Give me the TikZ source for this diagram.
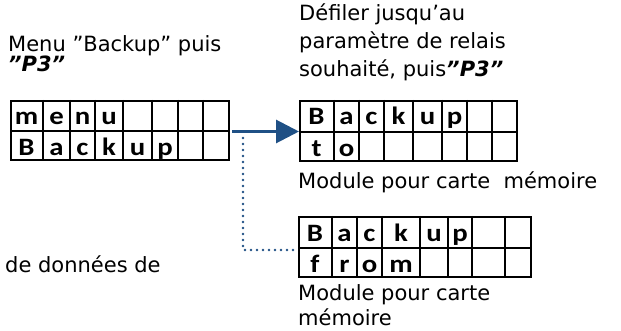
\documentclass[tikz,border=0pt]{standalone}
\usepackage{fontspec}
\setmainfont{DejaVu Sans}
\newfontfamily\cellfont[FakeStretch=1.15]{Carlito}
\usetikzlibrary{arrows.meta}
\definecolor{arrowblue}{RGB}{31,80,133}

\tikzset{
  txt/.style={anchor=base west, inner sep=0pt, font=\fontsize{21}{25}\selectfont},
  panel/.style={draw=black, line width=1.8pt, anchor=north west, inner sep=0pt},
  rule/.style={draw=black, line width=1.8pt},
  cell/.style={anchor=base, inner sep=0pt, font=\cellfont\bfseries\fontsize{25}{29}\selectfont},
  flow/.style={draw=arrowblue, line width=3pt, -{Triangle[length=23pt,width=23pt]}},
  dots/.style={draw=arrowblue, line width=2.8pt, line cap=round, dash pattern=on 0pt off 6pt}
}

\begin{document}
\begin{tikzpicture}[x=1pt,y=-1pt]
\useasboundingbox (0,0) rectangle (621,331);

% captions
\node[txt] (c1a) at (8,52) {Menu ”Backup” puis};
\node[txt] (c1b) at (8,72) {\bfseries\itshape "P3”};
\node[txt] (c2a) at (299,21) {Défiler jusqu’au};
\node[txt] (c2b) at (299,49) {paramètre de relais};
\node[txt] (c2c) at (299,77) {souhaité, puis{\bfseries\itshape "P3”}};
\node[txt] (c3)  at (298,189) {Module pour carte\ \ mémoire};
\node[txt] (c4a) at (298,300) {Module pour carte};
\node[txt] (c4b) at (298,325) {mémoire};
\node[txt] (c5)  at (5,272) {de données de};

% display 1: menu / Backup
\node[panel, minimum width=218pt, minimum height=59pt] (g1) at (10,100) {};
\draw[rule] (10,131) -- (228,131);
\foreach \x in {43,70,95,123,152,178,203} \draw[rule] (\x,100) -- (\x,159);
\foreach \a/\b/\l [count=\i] in {10/43/m,43/70/e,70/95/n,95/123/u}
  \node[cell] (g1t\i) at ({(\a+\b)/2},125) {\l};
\foreach \a/\b/\l [count=\i] in {10/43/B,43/70/a,70/95/c,95/123/k,123/152/u,152/178/p}
  \node[cell] (g1b\i) at ({(\a+\b)/2},156) {\l};

% display 2: Backup / to
\node[panel, minimum width=217pt, minimum height=60pt] (g2) at (299,100) {};
\draw[rule] (299,132) -- (516,132);
\foreach \x in {334,359,384,413,442,467,492} \draw[rule] (\x,100) -- (\x,160);
\foreach \a/\b/\l [count=\i] in {299/334/B,334/359/a,359/384/c,384/413/k,413/442/u,442/467/p}
  \node[cell] (g2t\i) at ({(\a+\b)/2},125) {\l};
\foreach \a/\b/\l [count=\i] in {299/334/t,334/359/o}
  \node[cell] (g2b\i) at ({(\a+\b)/2},157) {\l};

% display 3: Backup / from
\node[panel, minimum width=232pt, minimum height=60pt] (g3) at (298,216) {};
\draw[rule] (298,248) -- (530,248);
\foreach \x in {332,357,382,420,448,472,505} \draw[rule] (\x,216) -- (\x,276);
\foreach \a/\b/\l [count=\i] in {298/332/B,332/357/a,357/382/c,382/420/k,420/448/u,448/472/p}
  \node[cell] (g3t\i) at ({(\a+\b)/2},241) {\l};
\foreach \a/\b/\l [count=\i] in {298/332/f,332/357/r,357/382/o,382/420/m}
  \node[cell] (g3b\i) at ({(\a+\b)/2},272) {\l};

% connectors
\coordinate (arrowstart) at (232,131.5);
\draw[flow] (arrowstart) -- (g2.west |- arrowstart);
\coordinate (dotstart) at (243,138);
\coordinate (dotturn) at (243,250);
\draw[dots] (dotstart) -- (dotturn) -- (g3.west |- dotturn);
\end{tikzpicture}
\end{document}
